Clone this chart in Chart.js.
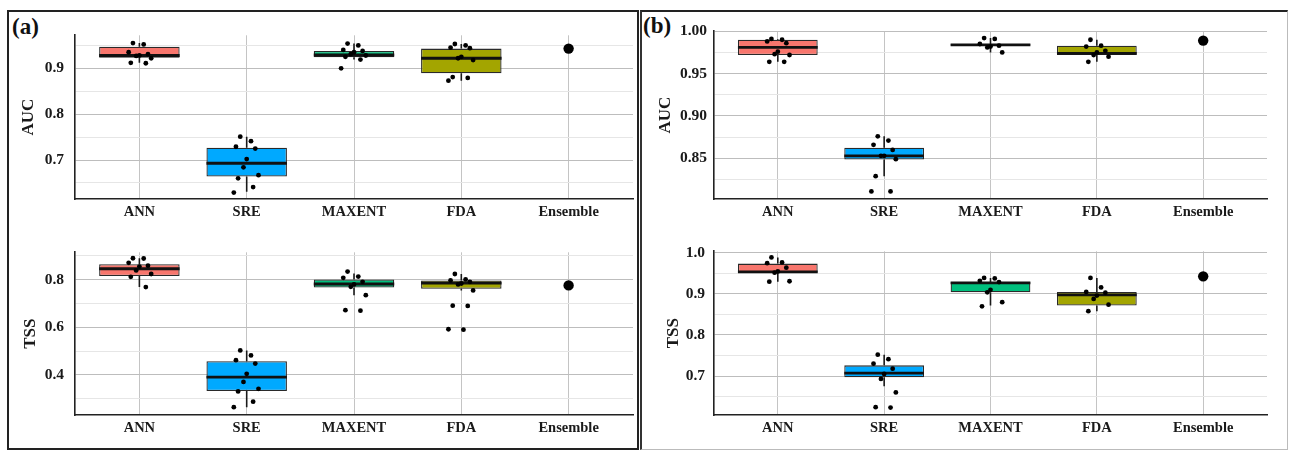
<!DOCTYPE html>
<html>
<head>
<meta charset="utf-8">
<script src="https://cdn.jsdelivr.net/npm/chart.js@4.4.1/dist/chart.umd.min.js"></script>
<style>
  body { margin: 0; background: #fff; width: 1291px; height: 450px; position: relative; overflow: hidden; }
  #frameA { position: absolute; left: 7px; top: 10px; width: 632px; height: 440px; box-sizing: border-box; border: 2px solid #222; }
  #frameB { position: absolute; left: 640px; top: 10px; width: 648px; height: 440px; box-sizing: border-box;
            border-top: 2px solid #222; border-left: 2px solid #333; border-right: 1px solid #bbb; border-bottom: 1px solid #bbb; }
  .tag { position: absolute; font-family: 'Liberation Serif', 'Times New Roman', serif; font-weight: bold; font-size: 23px; line-height: 23px; color: #111; }
  canvas { position: absolute; }
</style>
</head>
<body>
<div id="frameA"></div>
<div id="frameB"></div>
<div class="tag" style="left:12px; top:15px;">(a)</div>
<div class="tag" style="left:643px; top:14px;">(b)</div>
<canvas id="aAuc"></canvas>
<canvas id="aTss"></canvas>
<canvas id="bAuc"></canvas>
<canvas id="bTss"></canvas>
<script>
// categories
const models = ['ANN', 'SRE', 'MAXENT', 'FDA', 'Ensemble'];

// ---- panel (a) AUC : box stats for ANN, SRE, MAXENT, FDA
const aAucLo  = [0.912, 0.631, 0.919, 0.873];
const aAucQ1  = [0.923, 0.664, 0.924, 0.889];
const aAucMed = [0.928, 0.693, 0.929, 0.922];
const aAucQ3  = [0.947, 0.727, 0.938, 0.943];
const aAucHi  = [0.955, 0.751, 0.954, 0.953];
const aAucEns = 0.943;
const aAucANN    = [0.955, 0.952, 0.935, 0.931, 0.928, 0.927, 0.922, 0.912, 0.911];
const aAucSRE    = [0.751, 0.741, 0.729, 0.725, 0.702, 0.684, 0.667, 0.660, 0.641, 0.629];
const aAucMAXENT = [0.954, 0.950, 0.940, 0.938, 0.935, 0.931, 0.928, 0.925, 0.919, 0.900];
const aAucFDA    = [0.953, 0.950, 0.945, 0.944, 0.925, 0.922, 0.918, 0.881, 0.879, 0.873];

// ---- panel (a) TSS
const aTssLo  = [0.769, 0.265, 0.735, 0.755];
const aTssQ1  = [0.815, 0.333, 0.767, 0.762];
const aTssMed = [0.846, 0.391, 0.782, 0.786];
const aTssQ3  = [0.865, 0.458, 0.801, 0.797];
const aTssHi  = [0.890, 0.503, 0.826, 0.824];
const aTssEns = 0.776;
const aTssANN    = [0.890, 0.889, 0.871, 0.859, 0.855, 0.839, 0.824, 0.812, 0.769];
const aTssSRE    = [0.503, 0.482, 0.462, 0.448, 0.405, 0.371, 0.342, 0.331, 0.288, 0.265];
const aTssMAXENT = [0.834, 0.813, 0.808, 0.791, 0.780, 0.770, 0.735, 0.672, 0.670];
const aTssFDA    = [0.824, 0.801, 0.797, 0.791, 0.784, 0.780, 0.755, 0.691, 0.690, 0.592, 0.590];

// ---- panel (b) AUC
const bAucLo  = [0.964, 0.829, 0.975, 0.964];
const bAucQ1  = [0.972, 0.8485, 0.983, 0.972];
const bAucMed = [0.981, 0.853, 0.984, 0.974];
const bAucQ3  = [0.990, 0.8625, 0.985, 0.983];
const bAucHi  = [0.991, 0.876, 0.992, 0.990];
const bAucEns = 0.989;
const bAucANN    = [0.991, 0.990, 0.988, 0.986, 0.976, 0.973, 0.972, 0.964, 0.964];
const bAucSRE    = [0.876, 0.871, 0.866, 0.860, 0.853, 0.853, 0.849, 0.829, 0.811, 0.811];
const bAucMAXENT = [0.992, 0.991, 0.985, 0.983, 0.982, 0.981, 0.975];
const bAucFDA    = [0.990, 0.983, 0.982, 0.977, 0.975, 0.972, 0.970, 0.964];

// ---- panel (b) TSS
const bTssLo  = [0.930, 0.675, 0.872, 0.858];
const bTssQ1  = [0.952, 0.697, 0.904, 0.872];
const bTssMed = [0.954, 0.707, 0.927, 0.898];
const bTssQ3  = [0.974, 0.726, 0.929, 0.905];
const bTssHi  = [0.989, 0.752, 0.939, 0.939];
const bTssEns = 0.943;
const bTssANN    = [0.989, 0.977, 0.975, 0.964, 0.955, 0.952, 0.931, 0.930];
const bTssSRE    = [0.752, 0.741, 0.730, 0.718, 0.705, 0.693, 0.660, 0.624, 0.623];
const bTssMAXENT = [0.939, 0.938, 0.932, 0.929, 0.910, 0.904, 0.880, 0.870];
const bTssFDA    = [0.939, 0.916, 0.905, 0.903, 0.896, 0.888, 0.874, 0.858];

// y ranges and tick labels
const aAucRange = [0.615, 0.972], aAucMajor = [0.7, 0.8, 0.9],        aAucMinor = [0.65, 0.75, 0.85, 0.95];
const aTssRange = [0.232, 0.915], aTssMajor = [0.4, 0.6, 0.8],        aTssMinor = [0.3, 0.5, 0.7, 0.9];
const bAucRange = [0.802, 1.0],   bAucMajor = [0.85, 0.9, 0.95, 1.0], bAucMinor = [0.825, 0.875, 0.925, 0.975];
const bTssRange = [0.605, 1.004], bTssMajor = [0.7, 0.8, 0.9, 1.0],   bTssMinor = [0.65, 0.75, 0.85, 0.95];

// styling
const fills = ['#f8766d', '#00a9ff', '#00bf7d', '#a3a500'];
const jitter = [-0.06, 0.04, -0.1, 0.08, 0.0, -0.03, 0.11, -0.08, 0.06, -0.12, 0.02];
const serif = "'Liberation Serif', 'Times New Roman', serif";
const BOX_W = 0.75;

function makeChart(p) {
  const cv = document.getElementById(p.id);
  const cl = p.left - 70, ct = p.top - 10;
  const cw = p.right - cl + 6, ch = p.bottom - ct + 28;
  cv.style.left = cl + 'px'; cv.style.top = ct + 'px';
  cv.width = cw; cv.height = ch;

  const boxes = p.q1.map((q, i) => ({ x: i, y: [q, p.q3[i]] }));
  const whisk = [];
  p.lo.forEach((lo, i) => {
    whisk.push({ x: i, y: lo }, { x: i, y: p.q1[i] }, { x: i, y: null },
               { x: i, y: p.q3[i] }, { x: i, y: p.hi[i] }, { x: i, y: null });
  });
  const meds = [];
  p.med.forEach((m, i) => {
    meds.push({ x: i - BOX_W / 2, y: m }, { x: i + BOX_W / 2, y: m }, { x: i, y: null });
  });
  const pts = [];
  p.pts.forEach((arr, i) => arr.forEach((v, j) => pts.push({ x: i + jitter[j % jitter.length], y: v })));

  const ticksAll = p.major.concat(p.minor).sort((a, b) => a - b);

  new Chart(cv, {
    type: 'bar',
    data: {
      datasets: [
        { type: 'line', data: whisk, borderColor: '#1a1a1a', borderWidth: 1.6, pointRadius: 0, spanGaps: false, order: 3 },
        { type: 'bar', data: boxes, backgroundColor: fills, borderColor: '#2a2a2a', borderWidth: 1.3,
          borderSkipped: false, barPercentage: BOX_W, categoryPercentage: 1, order: 2 },
        { type: 'line', data: meds, borderColor: '#111', borderWidth: 2.8, pointRadius: 0, spanGaps: false, order: 1 },
        { type: 'scatter', data: pts, backgroundColor: '#000', borderWidth: 0, pointRadius: 2.4, order: 0 },
        { type: 'scatter', data: [{ x: 4, y: p.ens }], backgroundColor: '#000', borderWidth: 0, pointRadius: 5.2, order: 0 }
      ]
    },
    options: {
      responsive: false,
      animation: false,
      events: [],
      layout: { padding: { top: 10, right: 6, left: 0, bottom: 0 } },
      plugins: { legend: { display: false }, tooltip: { enabled: false } },
      scales: {
        x: {
          type: 'linear', min: -0.6, max: 4.6, offset: false,
          afterBuildTicks: s => { s.ticks = models.map((m, i) => ({ value: i })); },
          afterFit: s => { s.height = 28; },
          ticks: { callback: v => models[v], color: '#1a1a1a', padding: 5, autoSkip: false, maxRotation: 0,
                   font: { family: serif, size: 14.5, weight: 'bold' } },
          grid: { color: '#c4c4c4', lineWidth: 1, drawTicks: false, offset: false },
          border: { display: true, color: '#222', width: 1.6 }
        },
        y: {
          type: 'linear', min: p.range[0], max: p.range[1],
          afterBuildTicks: s => { s.ticks = ticksAll.map(v => ({ value: v })); },
          afterFit: s => { s.width = 70; },
          ticks: { callback: v => p.major.includes(v) ? v.toFixed(p.dec) : '', color: '#1a1a1a', padding: p.tickPad,
                   autoSkip: false, font: { family: serif, size: 15.5, weight: 'bold' } },
          grid: { color: c => p.major.includes(c.tick.value) ? '#bdbdbd' : '#e6e6e6', lineWidth: 1, drawTicks: false },
          border: { display: true, color: '#222', width: 1.6 },
          title: { display: true, text: p.title, color: '#1a1a1a', padding: { top: p.titlePad, bottom: 0 },
                   font: { family: serif, size: 17, weight: 'bold' } }
        }
      }
    }
  });
}

makeChart({ id: 'aAuc', left: 75, right: 633, top: 25, bottom: 199, title: 'AUC', dec: 1, tickPad: 11, titlePad: 13,
  range: aAucRange, major: aAucMajor, minor: aAucMinor,
  lo: aAucLo, q1: aAucQ1, med: aAucMed, q3: aAucQ3, hi: aAucHi, ens: aAucEns,
  pts: [aAucANN, aAucSRE, aAucMAXENT, aAucFDA] });

makeChart({ id: 'aTss', left: 75, right: 633, top: 242, bottom: 415, title: 'TSS', dec: 1, tickPad: 11, titlePad: 15,
  range: aTssRange, major: aTssMajor, minor: aTssMinor,
  lo: aTssLo, q1: aTssQ1, med: aTssMed, q3: aTssQ3, hi: aTssHi, ens: aTssEns,
  pts: [aTssANN, aTssSRE, aTssMAXENT, aTssFDA] });

makeChart({ id: 'bAuc', left: 714, right: 1267, top: 25, bottom: 199, title: 'AUC', dec: 2, tickPad: 7, titlePad: 11,
  range: bAucRange, major: bAucMajor, minor: bAucMinor,
  lo: bAucLo, q1: bAucQ1, med: bAucMed, q3: bAucQ3, hi: bAucHi, ens: bAucEns,
  pts: [bAucANN, bAucSRE, bAucMAXENT, bAucFDA] });

makeChart({ id: 'bTss', left: 714, right: 1267, top: 243, bottom: 415, title: 'TSS', dec: 1, tickPad: 9, titlePad: 19,
  range: bTssRange, major: bTssMajor, minor: bTssMinor,
  lo: bTssLo, q1: bTssQ1, med: bTssMed, q3: bTssQ3, hi: bTssHi, ens: bTssEns,
  pts: [bTssANN, bTssSRE, bTssMAXENT, bTssFDA] });
</script>
</body>
</html>
